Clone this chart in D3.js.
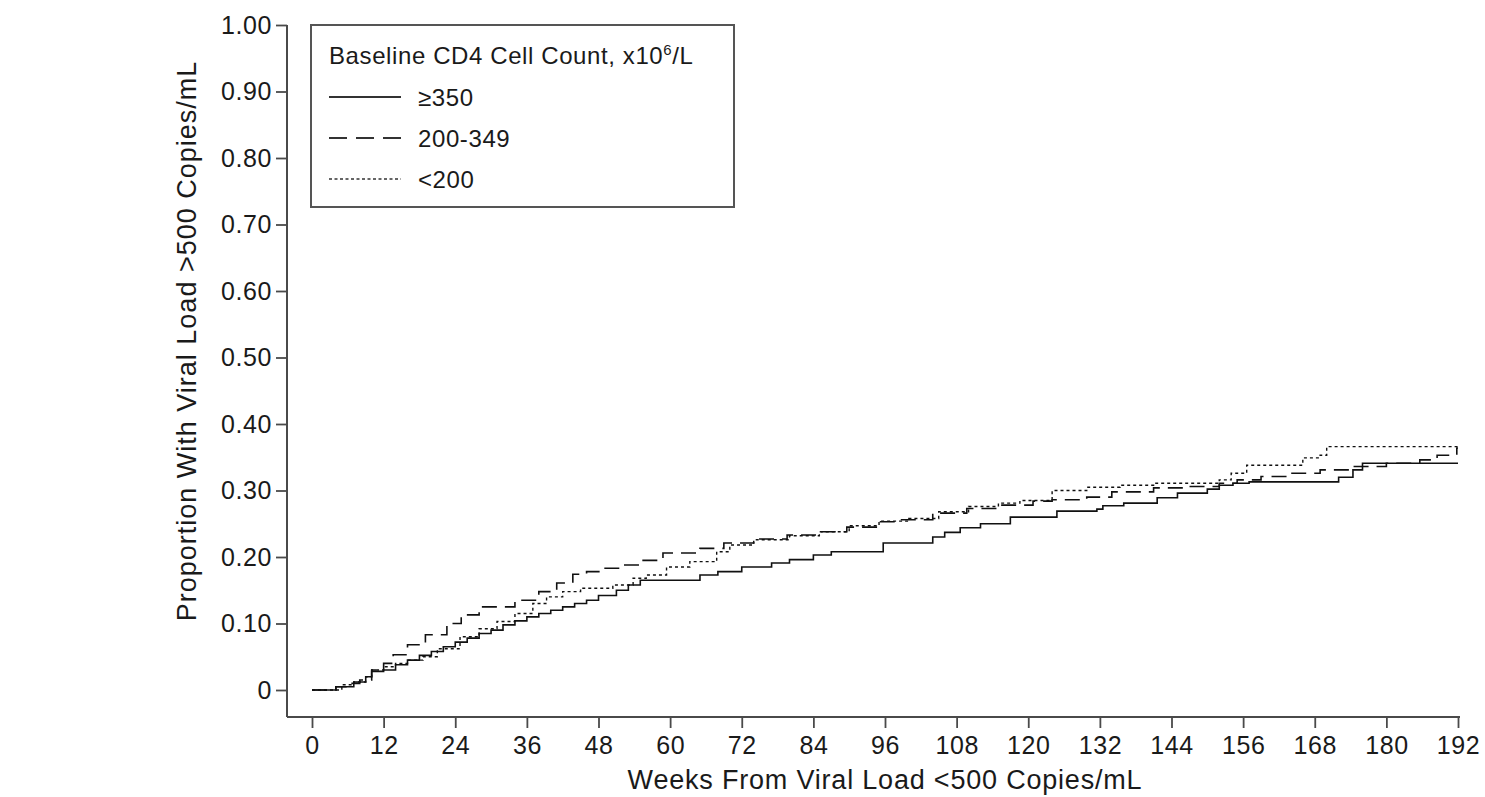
<!DOCTYPE html>
<html>
<head>
<meta charset="utf-8">
<script src="https://cdn.jsdelivr.net/npm/d3@7"></script>
<style>
  body { margin: 0; background: #fff; }
  text { font-family: "Liberation Sans", Arial, sans-serif; fill: #1a1a1a; }
</style>
</head>
<body>
<script>
// weeks / proportion pairs
var weeks350 = [0, 3, 4, 6, 7, 9, 10, 12, 14, 16, 18, 20, 22, 24, 26, 28, 30, 32, 34, 36, 38, 40, 42, 44, 46, 48, 51, 53, 55, 65, 68, 72, 77, 80, 84, 87, 95.7, 104, 106, 108.6, 112, 117, 124.8, 131.5, 132.5, 136, 141.6, 145, 150, 152, 154.3, 157, 170.5, 172, 174.4, 176, 192];
var vals350 = [0, 0, 0.005, 0.005, 0.012, 0.02, 0.028, 0.03, 0.038, 0.045, 0.052, 0.058, 0.065, 0.072, 0.078, 0.085, 0.09, 0.098, 0.104, 0.11, 0.115, 0.12, 0.125, 0.13, 0.135, 0.142, 0.15, 0.158, 0.165, 0.173, 0.178, 0.185, 0.191, 0.196, 0.203, 0.208, 0.221, 0.23, 0.237, 0.244, 0.25, 0.26, 0.269, 0.272, 0.277, 0.281, 0.289, 0.296, 0.302, 0.308, 0.311, 0.313, 0.313, 0.32, 0.331, 0.341, 0.341];

var weeks200 = [0, 3, 4, 6, 8, 10, 12, 13.6, 16, 19, 22.6, 25, 28, 34, 38, 41, 43.7, 46, 48.8, 51.6, 55, 58.8, 65, 69, 74, 79.6, 84.6, 89.6, 94.7, 98.5, 104, 109.7, 115.3, 120.8, 124, 129.8, 134, 141, 146.6, 152, 155, 159, 163.3, 168.9, 174.4, 180, 185.6, 188.5, 191.8, 192];
var vals200 = [0, 0, 0.005, 0.01, 0.015, 0.03, 0.04, 0.053, 0.068, 0.083, 0.1, 0.113, 0.125, 0.135, 0.148, 0.161, 0.174, 0.178, 0.183, 0.188, 0.195, 0.206, 0.213, 0.221, 0.227, 0.233, 0.238, 0.245, 0.253, 0.256, 0.266, 0.273, 0.278, 0.284, 0.286, 0.29, 0.298, 0.304, 0.306, 0.311, 0.316, 0.321, 0.326, 0.331, 0.336, 0.341, 0.346, 0.353, 0.364, 0.364];

var weeksLow = [0, 3, 5, 7, 9, 10, 12, 14, 16, 18.6, 21, 24.8, 28, 31, 34, 37, 39.3, 42, 45, 50.4, 53.8, 56, 59.4, 63.3, 67.8, 70, 74, 80, 85, 90, 95, 100, 105, 110, 115, 118.6, 124, 129.8, 135.4, 141, 152, 154, 156.6, 163.3, 166, 168.9, 170, 192];
var valsLow = [0, 0, 0.008, 0.012, 0.02, 0.03, 0.035, 0.04, 0.045, 0.05, 0.062, 0.08, 0.092, 0.103, 0.115, 0.13, 0.14, 0.148, 0.153, 0.158, 0.168, 0.173, 0.185, 0.193, 0.208, 0.218, 0.226, 0.232, 0.238, 0.247, 0.254, 0.258, 0.268, 0.276, 0.281, 0.285, 0.3, 0.305, 0.308, 0.311, 0.316, 0.326, 0.338, 0.338, 0.349, 0.353, 0.366, 0.366];

var seriesNames = ["\u2265350", "200-349", "<200"];
var xTicks = [0, 12, 24, 36, 48, 60, 72, 84, 96, 108, 120, 132, 144, 156, 168, 180, 192];
var yTicks = [0, 0.1, 0.2, 0.3, 0.4, 0.5, 0.6, 0.7, 0.8, 0.9, 1.0];

var width = 1485, height = 797;
var axisLeftX = 287, axisBottomY = 717;

var svg = d3.select("body").append("svg")
    .attr("width", width)
    .attr("height", height);

var x = d3.scaleLinear().domain([0, 192]).range([312, 1458]);
var y = d3.scaleLinear().domain([0, 1]).range([690, 25]);

var axisColor = "#4a4a4a";

// y axis
var yAxis = svg.append("g")
    .attr("transform", "translate(" + axisLeftX + ",0)")
    .call(d3.axisLeft(y).tickValues(yTicks).tickSize(11).tickPadding(4)
        .tickFormat(d => d === 0 ? "0" : d3.format(".2f")(d)));
yAxis.select(".domain").remove();
yAxis.selectAll("line").attr("stroke", axisColor).attr("stroke-width", 1.8);
yAxis.selectAll("text").attr("font-size", 25).attr("letter-spacing", 0.6).attr("fill", "#1a1a1a")
    .attr("font-family", "Liberation Sans, Arial, sans-serif");

// x axis
var xAxis = svg.append("g")
    .attr("transform", "translate(0," + axisBottomY + ")")
    .call(d3.axisBottom(x).tickValues(xTicks).tickSize(11).tickPadding(8));
xAxis.select(".domain").remove();
xAxis.selectAll("line").attr("stroke", axisColor).attr("stroke-width", 1.8);
xAxis.selectAll("text").attr("font-size", 25).attr("letter-spacing", 0.6).attr("fill", "#1a1a1a")
    .attr("font-family", "Liberation Sans, Arial, sans-serif");

// axis lines
svg.append("line")
    .attr("x1", axisLeftX).attr("x2", axisLeftX)
    .attr("y1", y(1)).attr("y2", axisBottomY)
    .attr("stroke", axisColor).attr("stroke-width", 2);
svg.append("line")
    .attr("x1", axisLeftX).attr("x2", x(192) + 2)
    .attr("y1", axisBottomY).attr("y2", axisBottomY)
    .attr("stroke", axisColor).attr("stroke-width", 2);

// axis titles
svg.append("text")
    .attr("x", 885).attr("y", 789)
    .attr("text-anchor", "middle")
    .attr("font-size", 27).attr("letter-spacing", 0.8)
    .text("Weeks From Viral Load <500 Copies/mL");

svg.append("text")
    .attr("transform", "translate(196,341) rotate(-90)")
    .attr("text-anchor", "middle")
    .attr("font-size", 27).attr("letter-spacing", 1)
    .text("Proportion With Viral Load >500 Copies/mL");

// curves
var styles = [
    {dash: null, w: 1.6},
    {dash: "15,8", w: 1.6},
    {dash: "3,3", w: 1.4}
];
var series = [
    d3.zip(weeks350, vals350),
    d3.zip(weeks200, vals200),
    d3.zip(weeksLow, valsLow)
];

var line = d3.line()
    .x(d => x(d[0]))
    .y(d => y(d[1]))
    .curve(d3.curveStepAfter);

svg.append("g")
    .selectAll("path")
    .data(series)
    .enter().append("path")
    .attr("d", line)
    .attr("fill", "none")
    .attr("stroke", "#111")
    .attr("stroke-width", (d, i) => styles[i].w)
    .attr("stroke-dasharray", (d, i) => styles[i].dash);

// legend
var legend = svg.append("g");
legend.append("rect")
    .attr("x", 311).attr("y", 25)
    .attr("width", 423).attr("height", 182)
    .attr("fill", "#fff")
    .attr("stroke", "#555").attr("stroke-width", 2);

var title = legend.append("text")
    .attr("x", 329).attr("y", 64)
    .attr("font-size", 24).attr("letter-spacing", 0.6);
title.append("tspan").text("Baseline CD4 Cell Count, x10");
title.append("tspan").attr("font-size", 15).attr("dy", -9).text("6");
title.append("tspan").attr("dy", 9).text("/L");

var legendDash = [null, "18,9", "3,2.5"];
var items = legend.selectAll(".item")
    .data(seriesNames)
    .enter().append("g")
    .attr("transform", (d, i) => "translate(0," + (97 + i * 41) + ")");
items.append("line")
    .attr("x1", 329).attr("x2", 401)
    .attr("stroke", "#333")
    .attr("stroke-width", (d, i) => i === 2 ? 1.3 : 1.8)
    .attr("stroke-dasharray", (d, i) => legendDash[i]);
items.append("text")
    .attr("x", 418).attr("y", 9)
    .attr("font-size", 24).attr("letter-spacing", 0.6)
    .text(d => d);
</script>
</body>
</html>
